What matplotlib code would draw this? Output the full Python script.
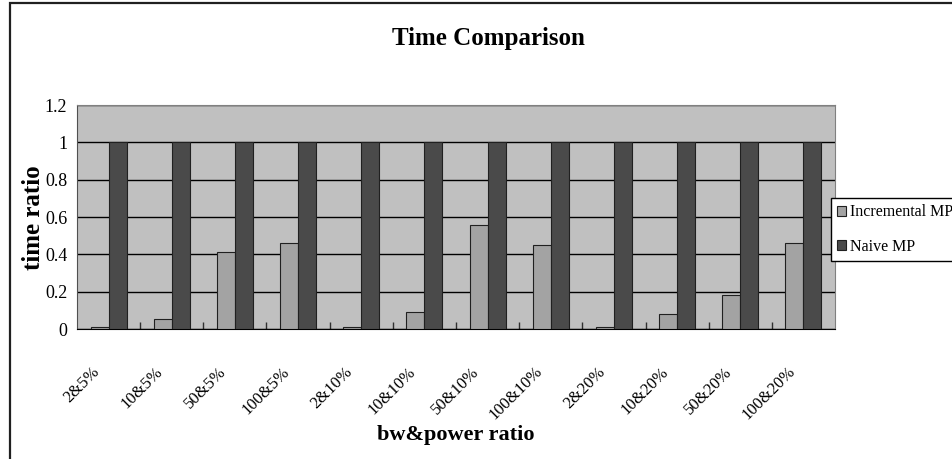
import matplotlib.pyplot as plt
import matplotlib.transforms as mtrans
from matplotlib.patches import Rectangle
import numpy as np

categories = ["2&5%", "10&5%", "50&5%", "100&5%", "2&10%", "10&10%",
              "50&10%", "100&10%", "2&20%", "10&20%", "50&20%", "100&20%"]
incremental = [0.013, 0.054, 0.414, 0.459, 0.013, 0.093,
               0.556, 0.448, 0.013, 0.079, 0.18, 0.46]
naive = [1, 1, 1, 1, 1, 1, 1, 1, 1, 1, 1, 1]

plt.rcParams['font.family'] = ['Liberation Serif', 'DejaVu Serif']

fig = plt.figure(figsize=(9.53, 4.59), dpi=100)
ax = fig.add_axes([77/953, 1-329/459, 758/953, 224/459])
ax.set_facecolor('#C0C0C0')

x = np.arange(len(categories))
w = 1/3.5
ax.bar(x - w/2, incremental, w, color='#A3A3A3', edgecolor='#202020', linewidth=0.8,
       label='Incremental MP', zorder=3)
ax.bar(x + w/2, naive, w, color='#4A4A4A', edgecolor='#202020', linewidth=0.8,
       label='Naive MP', zorder=3)

ax.set_xlim(-0.5, len(categories) - 0.5)
ax.set_ylim(0, 1.2)
ax.set_yticks([0, 0.2, 0.4, 0.6, 0.8, 1, 1.2])
ax.set_yticklabels(['0', '0.2', '0.4', '0.6', '0.8', '1', '1.2'], fontsize=13)
ax.yaxis.grid(True, color='black', linewidth=1, zorder=1)
ax.set_axisbelow(True)
ax.tick_params(axis='y', length=0, pad=7)

# category labels on major ticks, boundary marks on minor ticks
ax.set_xticks(x)
ax.set_xticklabels(categories, fontsize=12, rotation=45, ha='right',
                   va='center', rotation_mode='anchor')
ax.set_xticks(x[:-1] + 0.5, minor=True)
ax.tick_params(axis='x', which='major', length=0, pad=29)
ax.tick_params(axis='x', which='minor', direction='in', length=5, width=1, color='#303030')
shift = mtrans.ScaledTranslation(-0.11, 0, fig.dpi_scale_trans)
for lbl in ax.get_xticklabels():
    lbl.set_transform(lbl.get_transform() + shift)

for side in ['top', 'right']:
    ax.spines[side].set_color('#808080')
ax.spines['left'].set_color('#505050')
ax.spines['bottom'].set_color('black')

fig.text(488/953, 1-45/459, 'Time Comparison', ha='center', va='baseline',
         fontsize=18, fontweight='bold')
fig.text(34/953, 1-218/459, 'time ratio', ha='center', va='center',
         rotation=90, fontsize=18, fontweight='bold')
fig.text(456/953, 1-435/459, 'bw&power ratio', ha='center', va='center',
         fontsize=16, fontweight='bold')

leg = ax.legend(loc='upper left', bbox_to_anchor=(831/953, 1-198/459),
                bbox_transform=fig.transFigure, fontsize=11.5, frameon=True,
                fancybox=False, borderaxespad=0, handlelength=0.55,
                handleheight=0.55, handletextpad=0.25, labelspacing=1.15,
                borderpad=0.4)
leg.get_frame().set_edgecolor('black')
leg.get_frame().set_linewidth(1)
leg.get_frame().set_alpha(1)

fig.add_artist(Rectangle((10/953, -0.1), 1.2, 1.1 - 3.3/459, transform=fig.transFigure,
                         fill=False, edgecolor='#202020', linewidth=1.6))

fig.savefig('out.png', dpi=100)
